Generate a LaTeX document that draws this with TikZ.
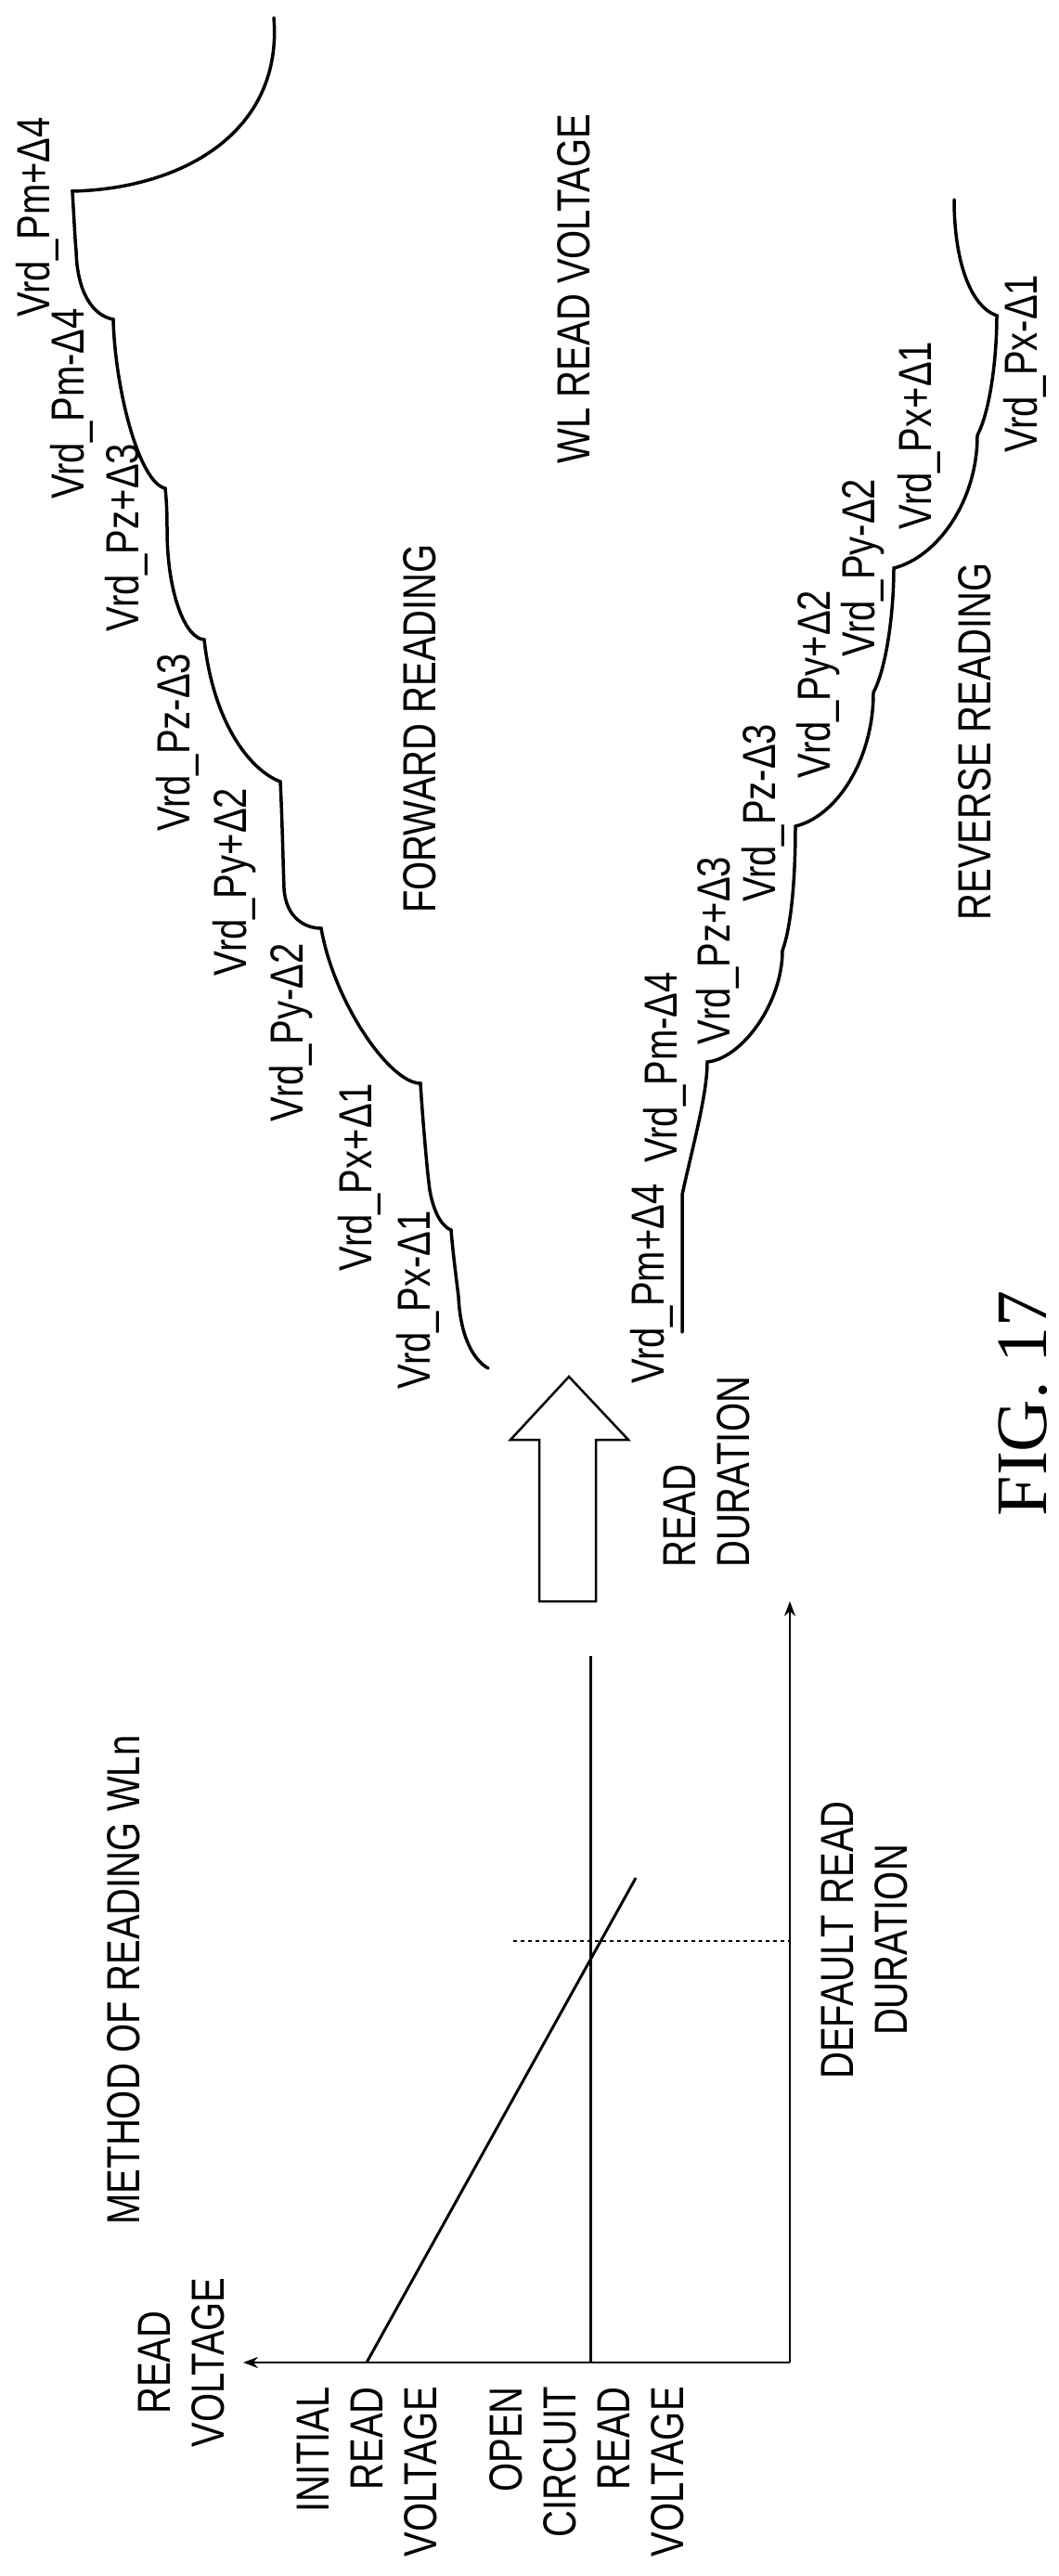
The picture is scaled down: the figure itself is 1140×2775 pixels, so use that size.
\documentclass[tikz,border=0pt]{standalone}
\usepackage{fontspec}
\setmainfont{Liberation Sans}[FakeStretch=0.8]
\newfontfamily\figfont{Liberation Serif}
\usetikzlibrary{arrows.meta}
\begin{document}
\begin{tikzpicture}[x=1pt,y=-1pt,
  lbl/.style={rotate=90,inner sep=0pt,font=\fontsize{50}{58}\selectfont},
  crv/.style={line width=3.5pt,line cap=round},
  axis/.style={line width=2pt,-{Stealth[length=16pt,width=12pt]}}]
\useasboundingbox (0,0) rectangle (1140,2775);
% left graph
\coordinate (corner) at (851,2545);
\coordinate (vtip) at (262,2545);
\coordinate (dtip) at (851,1725);
\draw[axis] (corner) -- (vtip);
\draw[axis] (corner) -- (dtip);
\coordinate (oc0) at (636,2545); \coordinate (oc1) at (636,1784);
\draw[line width=3pt] (oc0) -- (oc1);
\coordinate (ir0) at (395,2545); \coordinate (ir1) at (685,2023);
\draw[line width=3pt] (ir0) -- (ir1);
\coordinate (dl0) at (553,2091); \coordinate (dl1) at (851,2091);
\draw[line width=1.5pt,dash pattern=on 4pt off 4pt] (dl0) -- (dl1);
\node[lbl,align=center] (rv) at (196,2545) {READ\\VOLTAGE};
\node[lbl,align=right,anchor=north east] (irv) at (320,2571) {INITIAL\\READ\\VOLTAGE};
\node[lbl,align=right,anchor=north east] (ocv) at (527,2571) {OPEN\\CIRCUIT\\READ\\VOLTAGE};
\node[lbl] (meth) at (133,2133) {METHOD OF READING WLn};
\node[lbl,align=center] (drd) at (932,2090) {DEFAULT READ\\DURATION};
\node[lbl,align=left,anchor=south west] (rd) at (808,1689) {READ\\DURATION};
\node[rotate=90,inner sep=0pt,font=\figfont\fontsize{78}{78}\selectfont] (fig) at (1102,1512) {FIG. 17};
% hollow arrow
\draw[line width=2.5pt,line join=miter] (581,1725) -- (581,1551) -- (550,1551) -- (613,1483) -- (677,1551) -- (642,1551) -- (642,1725) -- cycle;
% forward curve
\draw[crv] (295,19) .. controls (305,140) and (200,203) .. (78,206)
  .. controls (80,240) and (81,260) .. (82,270)
  .. controls (83,315) and (100,340) .. (122,344)
  .. controls (124,420) and (150,520) .. (178,526)
  .. controls (180,545) and (180,560) .. (180,570)
  .. controls (180,640) and (200,688) .. (220,689)
  .. controls (230,780) and (270,830) .. (302,842)
  .. controls (304,880) and (305,930) .. (306,957)
  .. controls (308,990) and (330,1000) .. (346,1000)
  .. controls (360,1080) and (420,1167) .. (453,1167)
  .. controls (455,1200) and (460,1260) .. (463,1282)
  .. controls (468,1310) and (478,1322) .. (486,1325)
  .. controls (488,1350) and (492,1380) .. (494,1397)
  .. controls (496,1440) and (510,1465) .. (526,1474);
% reverse curve
\draw[crv] (735,1435) -- (735,1287)
  .. controls (745,1240) and (762,1180) .. (762,1144)
  .. controls (800,1140) and (843,1080) .. (843,1024)
  .. controls (852,1000) and (857,950) .. (857,890)
  .. controls (900,880) and (941,820) .. (941,746)
  .. controls (955,720) and (963,660) .. (963,612)
  .. controls (1010,600) and (1053,540) .. (1053,469)
  .. controls (1068,440) and (1074,380) .. (1074,340)
  .. controls (1045,330) and (1028,280) .. (1028,215);
% labels forward
\node[lbl] (f1) at (40,234) {Vrd\_Pm+Δ4};
\node[lbl] (f2) at (77,435) {Vrd\_Pm-Δ4};
\node[lbl] (f3) at (136,579) {Vrd\_Pz+Δ3};
\node[lbl] (f4) at (191,800) {Vrd\_Pz-Δ3};
\node[lbl] (f5) at (253,950) {Vrd\_Py+Δ2};
\node[lbl] (f6) at (314,1112) {Vrd\_Py-Δ2};
\node[lbl] (f7) at (387,1268) {Vrd\_Px+Δ1};
\node[lbl] (f8) at (450,1400) {Vrd\_Px-Δ1};
\node[lbl] (fwd) at (452,785) {FORWARD READING};
\node[lbl] (wl) at (618,311) {WL READ VOLTAGE};
\node[lbl] (rev) at (1050,799) {REVERSE READING};
% labels reverse
\node[lbl] (r1) at (702,1383) {Vrd\_Pm+Δ4};
\node[lbl] (r2) at (716,1150) {Vrd\_Pm-Δ4};
\node[lbl] (r3) at (773,1024) {Vrd\_Pz+Δ3};
\node[lbl] (r4) at (822,876) {Vrd\_Pz-Δ3};
\node[lbl] (r5) at (882,737) {Vrd\_Py+Δ2};
\node[lbl] (r6) at (930,612) {Vrd\_Py-Δ2};
\node[lbl] (r7) at (990,469) {Vrd\_Px+Δ1};
\node[lbl] (r8) at (1104,392) {Vrd\_Px-Δ1};
\end{tikzpicture}
\end{document}
